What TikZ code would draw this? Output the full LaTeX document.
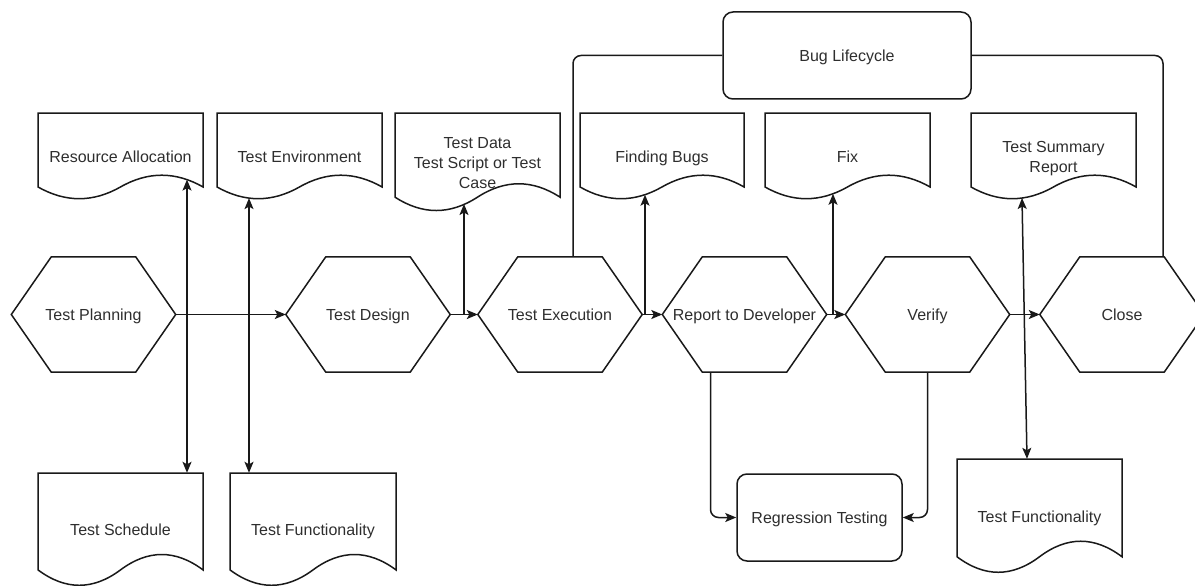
\documentclass[tikz,border=0pt]{standalone}
\usepackage{fontspec}
\setmainfont{Liberation Sans}
\usetikzlibrary{arrows.meta}

\tikzset{
  ln/.style={line width=1.5pt, draw=black!90},
  arr/.style={ln, -{Stealth[length=11pt,width=9pt,inset=2.5pt]}},
  darr/.style={ln, {Stealth[length=11pt,width=9pt,inset=2.5pt]}-{Stealth[length=11pt,width=9pt,inset=2.5pt]}},
  lbl/.style={font=\fontsize{16}{20}\selectfont, text=black!82, align=center, inner sep=0pt, text depth=0pt},
  hexnode/.style={lbl, minimum width=164pt, minimum height=115pt},
  rbox/.style={lbl, ln, rounded corners=10pt}
}

% hexagonal process step: name, centre x, centre y, text
\newcommand\hexstep[4]{%
  \node[hexnode] (#1) at (#2,#3) {#4};
  \draw[ln] (#1.west) -- ([xshift=40pt]#1.north west) -- ([xshift=-40pt]#1.north east)
    -- (#1.east) -- ([xshift=-40pt]#1.south east) -- ([xshift=40pt]#1.south west) -- cycle;
}

% document with wavy bottom: name, left, top, width, height, text
\newcommand\docbox[6]{%
  \pgfmathsetmacro\dcL{#2}%
  \pgfmathsetmacro\dcR{#2+#4}%
  \pgfmathsetmacro\dcM{#2+#4/2}%
  \pgfmathsetmacro\dcB{#3+0.85*#5}%
  \pgfmathsetmacro\dcU{\dcB-0.18*#5}%
  \pgfmathsetmacro\dcD{\dcB+0.18*#5}%
  \pgfmathsetmacro\dcS{#4/6}%
  \draw[ln] (\dcL,#3) -- (\dcR,#3) -- (\dcR,\dcB)
    .. controls (\dcR-\dcS,\dcU) and (\dcM+\dcS,\dcU) .. (\dcM,\dcB)
    .. controls (\dcM-\dcS,\dcD) and (\dcL+\dcS,\dcD) .. (\dcL,\dcB) -- cycle;
  \node[lbl, minimum width=#4pt, minimum height=#5pt] (#1) at (\dcM,#3+#5/2) {#6};
}

\begin{document}
\begin{tikzpicture}[x=1pt,y=-1pt]
\useasboundingbox (0,0) rectangle (1195,586);

% main flow
\hexstep{plan}{93.5}{314.5}{Test Planning}
\hexstep{design}{368}{314.5}{Test Design}
\hexstep{exec}{560}{314.5}{Test Execution}
\hexstep{report}{744.5}{314.5}{Report to Developer}
\hexstep{verify}{927.5}{314.5}{Verify}
\hexstep{close}{1122}{314.5}{Close}

% documents above the flow
\docbox{ra}{38}{113}{165}{87}{Resource Allocation}
\docbox{env}{217}{113}{165}{87}{Test Environment}
\docbox{data}{395}{113}{165}{99}{Test Data\\Test Script or Test\\Case}
\docbox{bugs}{580}{113}{164}{87}{Finding Bugs}
\docbox{fix}{765}{113}{165}{87}{Fix}
\docbox{tsr}{971}{113}{165}{87}{Test Summary\\Report}

% documents below the flow
\docbox{sched}{38}{473}{165}{114}{Test Schedule}
\docbox{func1}{230}{473}{166}{114}{Test Functionality}
\docbox{func2}{957}{459}{165}{115}{Test Functionality}

% rounded boxes
\node[rbox, minimum width=248pt, minimum height=87pt] (bug) at (847,55.5) {Bug Lifecycle};
\node[rbox, minimum width=165pt, minimum height=87pt] (reg) at (819.5,517.5) {Regression Testing};

% points where arrows meet the wavy document edges
\coordinate (raTip) at (187,179.6);
\coordinate (envTip) at (249,198.1);
\coordinate (dataTip) at (464,204);
\coordinate (bugsTip) at (645,194.7);
\coordinate (fixTip) at (833,193.8);
\coordinate (tsrTip) at (1022,198);

% flow arrows
\draw[arr] (plan.east) -- (design.west);
\draw[arr] (design.east) -- (exec.west);
\draw[arr] (exec.east) -- (report.west);
\draw[arr] (report.east) -- (verify.west);
\draw[arr] (verify.east) -- (close.west);

% branches up to the documents
\draw[arr] (design.east) -| (dataTip);
\draw[arr] (exec.east) -| (bugsTip);
\draw[arr] (report.east) -| (fixTip);

% planning outputs
\draw[darr] (raTip) -- (raTip |- sched.north);
\draw[darr] (envTip) -- (envTip |- func1.north);
\draw[darr] (tsrTip) -- ([xshift=-12.5pt]func2.north);

% regression testing
\draw[arr, rounded corners=8pt] ([xshift=-34pt]report.south) |- (reg.west);
\draw[arr, rounded corners=8pt] (verify.south) |- (reg.east);

% bug lifecycle bracket
\draw[ln, rounded corners=8pt] ([xshift=13pt]exec.north) |- (bug.west);
\draw[ln, rounded corners=8pt] (bug.east) -| ([xshift=41pt]close.north);
\end{tikzpicture}
\end{document}
